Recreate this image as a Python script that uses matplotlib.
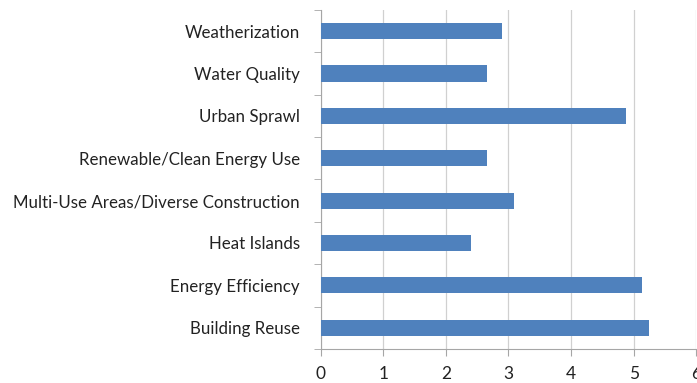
import matplotlib.pyplot as plt
import numpy as np

# categories listed bottom to top
categories = ['Building Reuse', 'Energy Efficiency', 'Heat Islands',
              'Multi-Use Areas/Diverse Construction', 'Renewable/Clean Energy Use',
              'Urban Sprawl', 'Water Quality', 'Weatherization']
values = [5.24, 5.13, 2.40, 3.09, 2.66, 4.87, 2.65, 2.90]
x_ticks = [0, 1, 2, 3, 4, 5, 6]

plt.rcParams['font.family'] = ['Lato', 'DejaVu Sans']

fig = plt.figure(figsize=(6.97, 3.83), dpi=100)
ax = fig.add_axes([0.46, 0.089, 0.539, 0.885])

y = np.arange(len(categories))
ax.barh(y, values, height=0.38, color='#4f81bd', zorder=3)

ax.set_xlim(0, 6)
ax.set_ylim(-0.5, len(categories) - 0.5)
ax.set_xticks(x_ticks)
ax.set_xticklabels([str(t) for t in x_ticks], fontsize=12.5, color='#222222')
ax.set_yticks(y)
ax.set_yticklabels(categories, fontsize=12.2, color='#222222')
ax.set_yticks(np.arange(-0.5, len(categories), 1), minor=True)
ax.tick_params(axis='y', which='major', length=0, pad=15)
ax.tick_params(axis='y', which='minor', length=5, color='#a6a6a6')
ax.tick_params(axis='x', length=5, color='#a6a6a6', pad=7)

ax.grid(axis='x', color='#d0d0d0', linewidth=0.9, zorder=0)
for s in ['top', 'right']:
    ax.spines[s].set_visible(False)
for s in ['left', 'bottom']:
    ax.spines[s].set_color('#a6a6a6')

fig.savefig('out.png', dpi=100)
